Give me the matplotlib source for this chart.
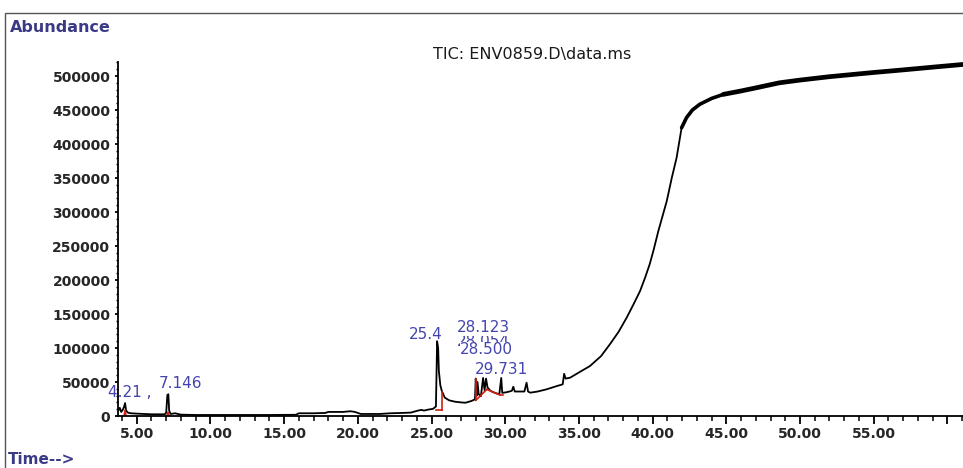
import matplotlib
matplotlib.use("Agg")
import matplotlib.pyplot as plt
import matplotlib.ticker as mticker
from matplotlib.patches import Rectangle
import numpy as np

# ---- data ----
time_min = [3.75, 3.85, 3.95, 4.05, 4.15, 4.21, 4.28, 4.4, 4.6, 5.0, 5.5, 6.0, 6.5, 6.9,
            7.0, 7.08, 7.146, 7.2, 7.3, 7.6, 8.0, 9.0, 10.0, 12.0, 14.0, 15.8, 16.0, 17.0,
            17.8, 18.0, 19.0, 19.5, 19.8, 20.2, 21.5, 22.2, 23.0, 23.6, 24.0, 24.3, 24.5,
            24.8, 25.1, 25.3, 25.38, 25.45, 25.5, 25.6, 25.7, 25.9, 26.2, 26.6, 27.0, 27.3,
            27.7, 27.95, 28.0, 28.07, 28.12, 28.2, 28.35, 28.5, 28.6, 28.7, 28.8, 29.0,
            29.3, 29.6, 29.73, 29.8, 30.1, 30.45, 30.55, 30.65, 31.3, 31.45, 31.55, 31.7,
            32.2, 32.8, 33.5, 33.9, 34.0, 34.1, 34.4, 35.0, 35.75, 36.5, 37.1, 37.7, 38.24,
            38.7, 39.15, 39.5, 39.8, 40.05, 40.39, 40.96, 41.3, 41.63, 41.97, 42.3, 42.7,
            43.2, 44.0, 44.8, 46.0, 47.06, 48.6, 50.0, 52.0, 54.9, 57.0, 59.0, 61.06]
abundance = [8000, 12000, 6000, 9000, 14000, 19000, 8000, 5000, 4000, 3500, 3000, 2500, 2500, 2500,
             5000, 31000, 32000, 8000, 3000, 4000, 2000, 1500, 1500, 1500, 1500, 1800, 4000, 4000,
             4500, 6000, 6000, 7000, 6000, 3000, 3000, 4000, 4500, 5000, 7500, 9000, 8000,
             9500, 10500, 14000, 110000, 100000, 66000, 45000, 36800, 27000, 23000, 21000, 20000, 19500,
             22000, 24500, 55000, 30000, 50000, 32000, 29000, 56000, 38000, 55000, 42000, 37000,
             34000, 32000, 56000, 34000, 35000, 37000, 43000, 36000, 36000, 49000, 36000, 34300,
             36000, 39200, 44000, 46600, 62000, 55000, 56300, 64000, 73500, 88000, 105400, 124000, 144600,
             164000, 183800, 204000, 223000, 242600, 272000, 316000, 350000, 380000, 424000, 438700, 450000,
             458400, 467000, 473000, 478000, 482800, 490000, 494000, 499000, 505000, 509000, 513000, 517000]

# integration (red) segments: list of (t0, v0, t1, v1)
integ_segments = [
    (4.15, 1500, 4.21, 8000), (4.21, 8000, 4.27, 1500),
    (7.05, 1000, 7.12, 5000), (7.12, 5000, 7.2, 1000),
    (25.3, 9500, 25.69, 9500), (25.69, 9500, 25.69, 35000),
    (28.0, 23000, 28.0, 55000), (28.0, 23000, 28.75, 39000),
    (28.75, 39000, 29.65, 31000), (29.65, 31000, 29.85, 31000),
]

# peak labels: (text, time position, abundance position)
peak_labels = [("4.21 ,", 4.55, 34500), ("7.146", 7.95, 47500), ("25.4", 24.6, 120000),
               ("28.054", 28.5, 109000), ("28.123", 28.5, 130000), ("28.500", 28.75, 97500),
               ("29.731", 29.75, 69000)]

x_major = [5, 10, 15, 20, 25, 30, 35, 40, 45, 50, 55, 60]
x_labels = ["5.00", "10.00", "15.00", "20.00", "25.00", "30.00", "35.00", "40.00",
            "45.00", "50.00", "55.00", ""]
y_major = list(range(0, 500001, 50000))

W, H = 963, 468
fig = plt.figure(figsize=(W / 100, H / 100), dpi=100)
fig.patch.set_facecolor("white")

# outer frame
fig.add_artist(Rectangle((5 / W, -0.05), 1.2, (H - 13) / H + 0.05, transform=fig.transFigure,
                         fill=False, edgecolor="#555555", linewidth=1.0))

ax = fig.add_axes([118 / W, 1 - 416 / H, (963 - 118) / W, (416 - 62) / H])
t = np.array(time_min)
v = np.array(abundance)
ax.plot(t, v, color="black", linewidth=1.3, solid_joinstyle="round")
mask1 = (t >= 41.97) & (t <= 44.8)
ax.plot(t[mask1], v[mask1], color="black", linewidth=2.6, solid_capstyle="round")
mask2 = t >= 44.8
ax.plot(t[mask2], v[mask2], color="black", linewidth=3.4, solid_capstyle="round")

for (t0, v0, t1, v1) in integ_segments:
    ax.plot([t0, t1], [v0, v1], color="#d02010", linewidth=1.2)

lab_color = "#4444b0"
for i, (txt, tx, vy) in enumerate(peak_labels):
    kw = {}
    if txt in ("28.123", "29.731", "28.500"):
        kw["bbox"] = dict(facecolor="white", edgecolor="none", pad=0.3)
    ax.text(tx, vy, txt, ha="center", va="center", fontsize=11, color=lab_color,
            family="DejaVu Sans", zorder=5 + i, **kw)

ax.set_xlim(3.73, 61.06)
ax.set_ylim(0, 520600)
for s in ("top", "right"):
    ax.spines[s].set_visible(False)
for s in ("left", "bottom"):
    ax.spines[s].set_linewidth(1.3)
    ax.spines[s].set_color("black")

ax.xaxis.set_major_locator(mticker.FixedLocator(x_major))
ax.xaxis.set_major_formatter(mticker.FixedFormatter(x_labels))
ax.xaxis.set_minor_locator(mticker.MultipleLocator(1))
ax.yaxis.set_major_locator(mticker.FixedLocator(y_major))
ax.yaxis.set_major_formatter(mticker.FuncFormatter(lambda val, p: f"{int(val)}"))
ax.yaxis.set_minor_locator(mticker.MultipleLocator(10000))

ax.tick_params(axis="x", which="major", length=6, width=1.3, pad=2,
               labelsize=10, labelcolor="#262626")
ax.tick_params(axis="x", which="minor", length=3.5, width=1.1)
ax.tick_params(axis="y", which="major", length=2.5, width=1.3, pad=3,
               labelsize=10, labelcolor="#262626")
ax.tick_params(axis="y", which="minor", length=1.5, width=1.0)
for lbl in ax.get_xticklabels() + ax.get_yticklabels():
    lbl.set_fontweight("bold")

fig.text(10 / W, 1 - 27 / H, "Abundance", ha="left", va="center", fontsize=11.5,
         fontweight="bold", color="#3a3a86")
fig.text(8 / W, 1 - 460 / H, "Time-->", ha="left", va="center", fontsize=11,
         fontweight="bold", color="#3a3a86")
fig.text(532 / W, 1 - 55 / H, "TIC: ENV0859.D\\data.ms", ha="center", va="center",
         fontsize=11.5, color="#1a1a1a")

fig.savefig("out.png", dpi=100)
